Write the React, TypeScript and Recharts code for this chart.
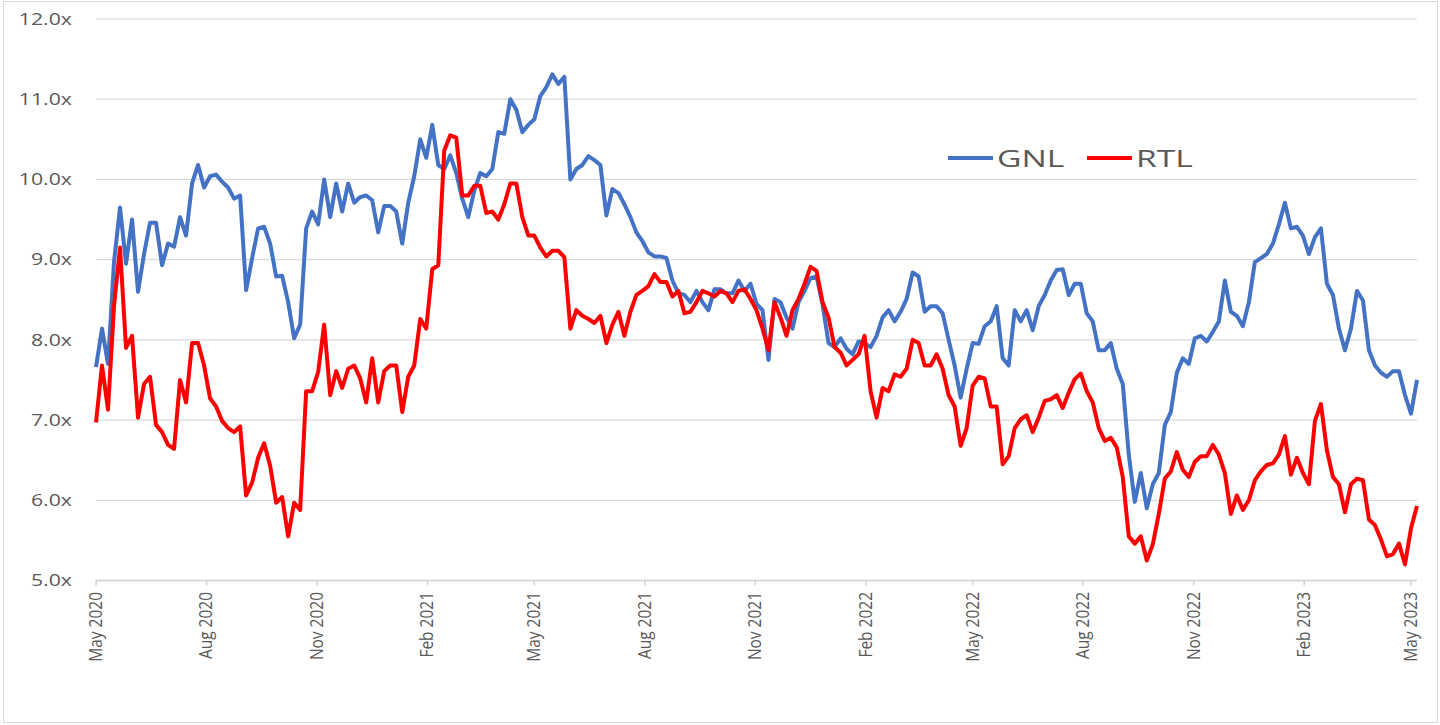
import React from "react";
import {
  LineChart, Line, XAxis, YAxis, CartesianGrid, Legend,
} from "recharts";

// one point every 5 calendar days, starting 1 May 2020
const STEP_DAYS = 5;

const gnl = [
  7.66, 8.14, 7.7, 8.97, 9.65, 8.95, 9.5, 8.6, 9.07, 9.46,
  9.46, 8.93, 9.2, 9.16, 9.53, 9.3, 9.95, 10.18, 9.9, 10.04,
  10.06, 9.97, 9.9, 9.76, 9.8, 8.62, 9.02, 9.39, 9.41, 9.2,
  8.79, 8.8, 8.47, 8.02, 8.19, 9.39, 9.6, 9.44, 10.0, 9.53,
  9.95, 9.6, 9.95, 9.71, 9.78, 9.8, 9.74, 9.34, 9.67, 9.67,
  9.6, 9.2, 9.71, 10.04, 10.5, 10.27, 10.68, 10.18, 10.13, 10.3,
  10.08, 9.76, 9.53, 9.86, 10.08, 10.04, 10.13, 10.59, 10.57, 11.0,
  10.87, 10.59, 10.68, 10.75, 11.04, 11.15, 11.31, 11.19, 11.28, 10.0,
  10.13, 10.18, 10.29, 10.24, 10.18, 9.55, 9.88, 9.83, 9.69, 9.53,
  9.34, 9.23, 9.09, 9.04, 9.04, 9.02, 8.74, 8.58, 8.56, 8.47,
  8.61, 8.47, 8.37, 8.63, 8.63, 8.58, 8.58, 8.74, 8.61, 8.7,
  8.45, 8.37, 7.75, 8.51, 8.47, 8.28, 8.14, 8.47, 8.61, 8.77,
  8.79, 8.44, 7.96, 7.91, 8.02, 7.89, 7.82, 7.98, 7.96, 7.91,
  8.05, 8.28, 8.37, 8.23, 8.35, 8.51, 8.84, 8.79, 8.35, 8.42,
  8.42, 8.33, 8.0, 7.68, 7.28, 7.64, 7.96, 7.95, 8.17, 8.23,
  8.42, 7.77, 7.68, 8.37, 8.23, 8.37, 8.12, 8.42, 8.56, 8.74,
  8.87, 8.88, 8.56, 8.7, 8.7, 8.33, 8.23, 7.87, 7.87, 7.96,
  7.64, 7.45, 6.57, 5.98, 6.34, 5.9, 6.2, 6.34, 6.94, 7.1,
  7.59, 7.77, 7.7, 8.02, 8.05, 7.98, 8.1, 8.23, 8.74, 8.35,
  8.3, 8.17, 8.47, 8.97, 9.02, 9.07, 9.2, 9.44, 9.71, 9.39,
  9.41, 9.3, 9.07, 9.28, 9.39, 8.7, 8.56, 8.14, 7.87, 8.14,
  8.61, 8.49, 7.87, 7.68, 7.59, 7.54, 7.61, 7.61, 7.31, 7.08,
  7.5,
];

const rtl = [
  6.97, 7.68, 7.13, 8.42, 9.15, 7.9, 8.05, 7.03, 7.45, 7.54,
  6.94, 6.85, 6.69, 6.64, 7.5, 7.22, 7.96, 7.96, 7.68, 7.27,
  7.17, 6.99, 6.9, 6.85, 6.92, 6.06, 6.22, 6.53, 6.71, 6.43,
  5.97, 6.04, 5.55, 5.97, 5.88, 7.36, 7.36, 7.6, 8.19, 7.31,
  7.61, 7.4, 7.64, 7.68, 7.52, 7.22, 7.77, 7.22, 7.61, 7.68,
  7.68, 7.1, 7.54, 7.68, 8.26, 8.14, 8.88, 8.93, 10.36, 10.55,
  10.52, 9.8, 9.8, 9.92, 9.92, 9.58, 9.6, 9.5, 9.69, 9.95,
  9.95, 9.53, 9.3, 9.3, 9.15, 9.04, 9.11, 9.11, 9.03, 8.14,
  8.37, 8.3, 8.26, 8.21, 8.3, 7.96, 8.19, 8.35, 8.05, 8.35,
  8.56, 8.61, 8.67, 8.82, 8.72, 8.72, 8.54, 8.61, 8.33, 8.35,
  8.47, 8.61, 8.58, 8.54, 8.61, 8.58, 8.47, 8.61, 8.63, 8.51,
  8.37, 8.14, 7.87, 8.47, 8.28, 8.05, 8.37, 8.51, 8.7, 8.91,
  8.86, 8.47, 8.28, 7.91, 7.84, 7.68, 7.75, 7.82, 8.05, 7.36,
  7.03, 7.4, 7.36, 7.57, 7.54, 7.64, 8.0, 7.96, 7.68, 7.68,
  7.82, 7.64, 7.31, 7.17, 6.68, 6.9, 7.43, 7.54, 7.52, 7.17,
  7.17, 6.45, 6.55, 6.9, 7.01, 7.06, 6.85, 7.03, 7.24, 7.26,
  7.31, 7.15, 7.34, 7.51, 7.58, 7.36, 7.22, 6.9, 6.74, 6.78,
  6.66, 6.29, 5.55, 5.46, 5.55, 5.25, 5.45, 5.83, 6.27, 6.36,
  6.6, 6.38, 6.29, 6.48, 6.55, 6.55, 6.69, 6.57, 6.34, 5.83,
  6.06, 5.88, 6.0, 6.25, 6.36, 6.44, 6.46, 6.57, 6.8, 6.32,
  6.53, 6.34, 6.2, 6.99, 7.2, 6.62, 6.29, 6.2, 5.85, 6.2,
  6.27, 6.25, 5.76, 5.69, 5.51, 5.3, 5.33, 5.46, 5.2, 5.65,
  5.93,
];

// days since 1 May 2020 for each axis label
const tickDays = [0, 92, 184, 276, 365, 457, 549, 641, 730, 822, 914, 1006, 1095];
const tickLabels = [
  "May 2020", "Aug 2020", "Nov 2020", "Feb 2021", "May 2021", "Aug 2021", "Nov 2021",
  "Feb 2022", "May 2022", "Aug 2022", "Nov 2022", "Feb 2023", "May 2023",
];
const yTicks = [5, 6, 7, 8, 9, 10, 11, 12];

const series = [
  { key: "gnl", name: "GNL", color: "#4472C4" },
  { key: "rtl", name: "RTL", color: "#FF0000" },
];

const data = gnl.map((g, i) => ({ day: i * STEP_DAYS, gnl: g, rtl: rtl[i] }));

const FONT = "'Open Sans', sans-serif";
const TEXT = "#595959";

const YTick = ({ x, y, payload }: any) => (
  <text
    transform={`translate(${x},${y}) scale(1.33,1)`}
    textAnchor="end"
    dy="0.36em"
    fontSize={16}
    fontFamily={FONT}
    fill={TEXT}
  >
    {payload.value.toFixed(1) + "x"}
  </text>
);

const XTick = ({ x, y, payload }: any) => {
  const label = tickLabels[tickDays.indexOf(payload.value)] ?? "";
  return (
    <text
      transform={`translate(${x + 6},${y + 4.5}) rotate(-90) scale(1,1.22)`}
      textAnchor="end"
      fontSize={15.5}
      fontFamily={FONT}
      fill={TEXT}
    >
      {label}
    </text>
  );
};

const LegendBox = ({ payload }: any) => (
  <div style={{ display: "flex", alignItems: "center", fontFamily: FONT, color: TEXT }}>
    {(payload ?? []).map((p: any, i: number) => (
      <div key={p.value} style={{ display: "flex", alignItems: "center", marginLeft: i ? 21 : 0 }}>
        <div style={{ width: 45, height: 3.5, background: p.color, marginRight: 4 }} />
        <div style={{ width: i ? 56 : 69, height: 24, fontSize: 24, lineHeight: "24px", whiteSpace: "nowrap" }}>
          <span style={{ display: "inline-block", transform: "scaleX(1.4)", transformOrigin: "left" }}>
            {p.value}
          </span>
        </div>
      </div>
    ))}
  </div>
);

export default function App() {
  return (
    <div style={{ position: "absolute", left: 0, top: 0, width: 1440, height: 725, background: "#fff" }}>
      <div
        style={{
          position: "absolute", left: 3, top: 1, width: 1435, height: 722,
          boxSizing: "border-box", border: "1.5px solid #d9d9d9",
        }}
      />
      <div style={{ position: "absolute", left: 0, top: 0 }}>
        <LineChart
          width={1440}
          height={725}
          data={data}
          margin={{ top: 19, right: 23, bottom: 64.5, left: 0 }}
        >
          <CartesianGrid vertical={false} stroke="#d9d9d9" strokeWidth={1.2} />
          <XAxis
            dataKey="day"
            type="number"
            domain={[0, 1100]}
            ticks={tickDays}
            interval={0}
            height={80}
            tickSize={5}
            tickMargin={2}
            axisLine={{ stroke: "#d0d0d0", strokeWidth: 1.5 }}
            tickLine={{ stroke: "#d0d0d0", strokeWidth: 1.5 }}
            tick={<XTick />}
          />
          <YAxis
            type="number"
            domain={[5, 12]}
            ticks={yTicks}
            interval={0}
            width={96}
            axisLine={false}
            tickLine={false}
            tickSize={6}
            tickMargin={18}
            tick={<YTick />}
          />
          <Legend
            layout="horizontal"
            verticalAlign="middle"
            align="center"
            content={<LegendBox />}
            wrapperStyle={{ left: 948, top: 146, width: 300, right: "auto", bottom: "auto" }}
          />
          {series.map((s) => (
            <Line
              key={s.key}
              type="linear"
              dataKey={s.key}
              name={s.name}
              stroke={s.color}
              strokeWidth={4}
              strokeLinejoin="round"
              dot={false}
              activeDot={false}
              isAnimationActive={false}
            />
          ))}
        </LineChart>
      </div>
    </div>
  );
}
